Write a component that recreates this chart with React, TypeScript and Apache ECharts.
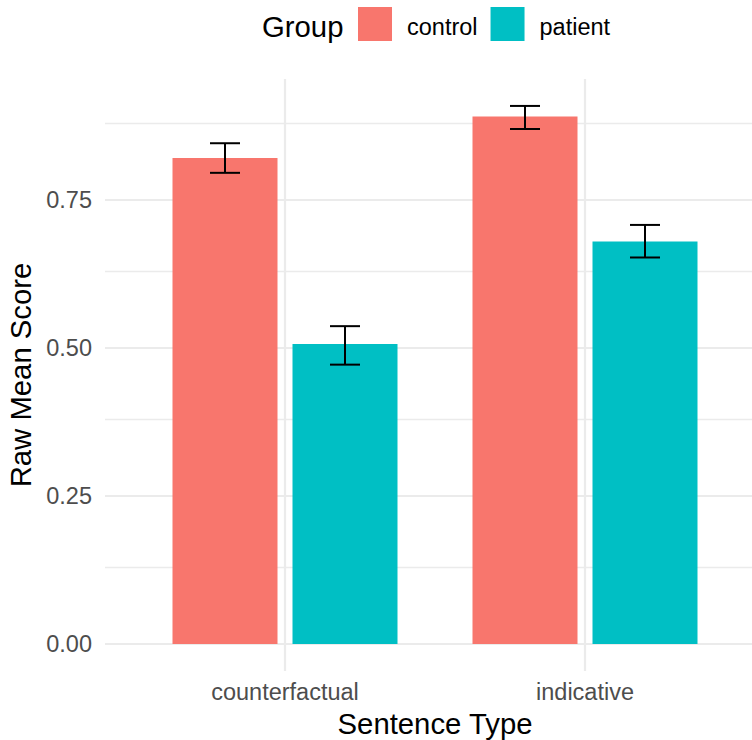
import React, { useEffect, useRef } from "react";
import * as echarts from "echarts";

const categories = ["counterfactual", "indicative"];
const groups = ["control", "patient"];
const controlMean = [0.821, 0.891];
const patientMean = [0.507, 0.68];
const controlLow = [0.796, 0.87];
const controlHigh = [0.846, 0.909];
const patientLow = [0.472, 0.653];
const patientHigh = [0.537, 0.708];
const yTicks = [0, 0.25, 0.5, 0.75];
const yMinor = [0.125, 0.375, 0.625, 0.875];

const COLORS = ["#F8766D", "#00BFC4"];
const FONT = "'Liberation Sans', Arial, sans-serif";
const DODGE = 0.2;
const HALF_BAR = 0.175;
const HALF_CAP = 0.05;

export default function App() {
  const ref = useRef<HTMLDivElement>(null);
  useEffect(() => {
    if (!ref.current) return;
    const chart = echarts.init(ref.current, undefined, { renderer: "svg" });

    const means = [controlMean, patientMean];
    const lows = [controlLow, patientLow];
    const highs = [controlHigh, patientHigh];

    const barSeries = groups.map((g, gi) => ({
      type: "custom",
      name: g,
      z: 3,
      itemStyle: { color: COLORS[gi] },
      encode: { x: 0, y: 1 },
      data: categories.map((_, ci) => [ci + 1 + (gi === 0 ? -DODGE : DODGE), means[gi][ci]]),
      renderItem: (params: any, api: any) => {
        const x = api.value(0);
        const y = api.value(1);
        const p1 = api.coord([x - HALF_BAR, y]);
        const p2 = api.coord([x + HALF_BAR, 0]);
        return {
          type: "rect",
          shape: { x: p1[0], y: p1[1], width: p2[0] - p1[0], height: p2[1] - p1[1] },
          style: { fill: COLORS[gi] },
        };
      },
    }));

    const errSeries = groups.map((g, gi) => ({
      type: "custom",
      name: g + "-err",
      z: 4,
      encode: { x: 0, y: [1, 2] },
      data: categories.map((_, ci) => [ci + 1 + (gi === 0 ? -DODGE : DODGE), lows[gi][ci], highs[gi][ci]]),
      renderItem: (params: any, api: any) => {
        const x = api.value(0);
        const lo = api.value(1);
        const hi = api.value(2);
        const top = api.coord([x, hi]);
        const bot = api.coord([x, lo]);
        const tl = api.coord([x - HALF_CAP, hi]);
        const tr = api.coord([x + HALF_CAP, hi]);
        const bl = api.coord([x - HALF_CAP, lo]);
        const br = api.coord([x + HALF_CAP, lo]);
        const st = { stroke: "#000", lineWidth: 2 };
        return {
          type: "group",
          children: [
            { type: "line", shape: { x1: top[0], y1: top[1], x2: bot[0], y2: bot[1] }, style: st },
            { type: "line", shape: { x1: tl[0], y1: tl[1], x2: tr[0], y2: tr[1] }, style: st },
            { type: "line", shape: { x1: bl[0], y1: bl[1], x2: br[0], y2: br[1] }, style: st },
          ],
        };
      },
    }));

    const gridSeries = {
      type: "line",
      name: "grid",
      data: [],
      z: 1,
      silent: true,
      markLine: {
        z: 1,
        silent: true,
        symbol: ["none", "none"],
        label: { show: false },
        animation: false,
        data: [
          ...yMinor.map((v) => ({ yAxis: v, lineStyle: { color: "#EBEBEB", width: 1.3, type: "solid" } })),
          ...yTicks.map((v) => ({ yAxis: v, lineStyle: { color: "#EBEBEB", width: 2.2, type: "solid" } })),
          ...categories.map((_, i) => ({ xAxis: i + 1, lineStyle: { color: "#EBEBEB", width: 2.2, type: "solid" } })),
        ],
      },
    };

    chart.setOption({
      animation: false,
      textStyle: { fontFamily: FONT },
      grid: { left: 105, top: 79, width: 660, height: 592, containLabel: false, outerBoundsMode: "none" },
      legend: {
        data: groups,
        left: 358,
        top: 7,
        padding: 0,
        itemWidth: 34,
        itemHeight: 34,
        itemGap: 13,
        icon: "rect",
        selectedMode: false,
        formatter: (name: string) => `{t|${name}}`,
        textStyle: {
          fontSize: 23.5,
          color: "#000",
          fontFamily: FONT,
          rich: {
            t: { fontSize: 23.5, color: "#000", fontFamily: FONT, padding: [6, 0, 0, 10] },
          },
        },
      },
      graphic: [
        {
          type: "text",
          left: 262,
          top: 12,
          style: { text: "Group", font: `29.3px ${FONT}`, fill: "#000" },
        },
      ],
      xAxis: {
        type: "value",
        min: 0.4,
        max: 2.6,
        axisLine: { show: false, onZero: false },
        axisTick: { show: false },
        splitLine: { show: false },
        axisLabel: {
          customValues: [1, 2],
          formatter: (v: number) => categories[Math.round(v) - 1] ?? "",
          fontSize: 23.5,
          color: "#4D4D4D",
          margin: 9,
          fontFamily: FONT,
        },
        name: "Sentence Type",
        nameLocation: "middle",
        nameGap: 32,
        nameTextStyle: { fontSize: 29.3, color: "#000", fontFamily: FONT },
      },
      yAxis: {
        type: "value",
        min: -0.0455,
        max: 0.9545,
        axisLine: { show: false, onZero: false },
        axisTick: { show: false },
        splitLine: { show: false },
        axisLabel: {
          customValues: yTicks,
          formatter: (v: number) => v.toFixed(2),
          fontSize: 23.5,
          color: "#4D4D4D",
          margin: 13,
          fontFamily: FONT,
        },
        name: "Raw Mean Score",
        nameLocation: "middle",
        nameRotate: 90,
        nameGap: 59,
        nameTextStyle: { fontSize: 29.3, color: "#000", fontFamily: FONT },
      },
      series: [gridSeries, ...barSeries, ...errSeries],
    });
    return () => chart.dispose();
  }, []);
  return (
    <div
      ref={ref}
      style={{ position: "absolute", left: 0, top: 0, width: 752, height: 740, background: "#fff" }}
    />
  );
}
